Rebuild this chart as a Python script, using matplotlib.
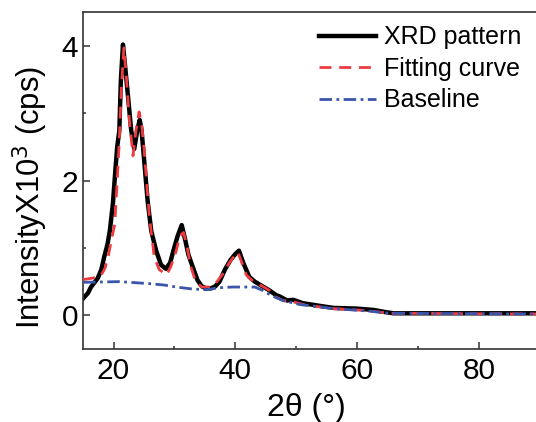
import numpy as np
import matplotlib.pyplot as plt
from matplotlib.ticker import MultipleLocator

plt.rcParams['font.family'] = ['Liberation Sans', 'DejaVu Sans']

# XRD pattern
xrd_2theta = [15.0, 15.8, 16.3, 17.4, 18.0, 18.5, 19.0, 19.4, 19.9, 20.3, 20.6, 20.95,
              21.2, 21.55, 21.9, 22.4, 22.9, 23.4, 23.9, 24.3, 24.6, 24.9, 25.6, 26.2,
              27.0, 27.8, 28.6, 29.3, 29.9, 30.5, 31.2, 31.7, 32.3, 33.0, 33.8, 34.5,
              35.2, 36.0, 36.7, 37.4, 38.3, 39.2, 40.0, 40.6, 41.3, 42.3, 43.2, 44.3,
              45.6, 46.7, 47.3, 48.5, 49.5, 51.1, 53.9, 56.1, 59.9, 62.7, 64.5, 66.0,
              72.0, 78.0, 84.0, 90.0]
xrd_counts = [0.25, 0.33, 0.42, 0.55, 0.68, 0.88, 1.05, 1.26, 1.66, 2.15, 2.50, 2.74,
              3.48, 4.02, 3.70, 3.23, 2.75, 2.47, 2.75, 2.90, 2.75, 2.44, 1.70, 1.25,
              0.96, 0.75, 0.69, 0.78, 0.98, 1.17, 1.34, 1.15, 0.90, 0.72, 0.52, 0.43,
              0.40, 0.40, 0.43, 0.50, 0.68, 0.82, 0.91, 0.96, 0.78, 0.57, 0.50, 0.44,
              0.37, 0.30, 0.28, 0.22, 0.23, 0.18, 0.14, 0.11, 0.10, 0.08, 0.05, 0.03,
              0.03, 0.03, 0.03, 0.03]

# fitting curve
fit_2theta = [15.0, 17.0, 18.0, 18.6, 19.1, 19.6, 20.2, 20.6, 20.9, 21.3, 21.7, 22.1,
              22.6, 23.2, 23.7, 24.2, 24.6, 25.05, 25.5, 25.9, 26.7, 27.5, 28.7, 29.4,
              30.3, 30.9, 31.5, 32.0, 32.7, 33.5, 34.5, 36.0, 37.0, 38.0, 39.0, 40.4,
              41.0, 41.8, 43.0, 44.3, 45.6, 46.7, 47.8, 49.5, 51.6, 56.1, 61.6, 65.4,
              90.0]
fit_counts = [0.53, 0.56, 0.60, 0.70, 0.86, 1.10, 1.35, 2.00, 2.50, 3.40, 3.97, 3.55,
              2.90, 2.37, 2.75, 3.02, 2.85, 2.44, 1.90, 1.46, 0.86, 0.68, 0.60, 0.72,
              0.96, 1.18, 1.23, 1.05, 0.72, 0.50, 0.42, 0.42, 0.50, 0.62, 0.78, 0.94,
              0.80, 0.60, 0.50, 0.44, 0.37, 0.27, 0.22, 0.20, 0.15, 0.10, 0.07, 0.03,
              0.02]

# baseline
base_2theta = [15.0, 21.0, 25.9, 28.3, 30.3, 33.0, 35.2, 37.4, 39.6, 43.2, 44.5, 46.0,
               47.8, 50.6, 56.1, 61.6, 65.4, 90.0]
base_counts = [0.49, 0.50, 0.47, 0.45, 0.42, 0.39, 0.38, 0.41, 0.42, 0.42, 0.37, 0.29,
               0.22, 0.16, 0.10, 0.065, 0.03, 0.02]

fig = plt.figure(figsize=(5.36, 4.22), dpi=100)
ax = fig.add_axes([0.155, 0.173, 0.852, 0.798])

ax.plot(xrd_2theta, xrd_counts, color='black', lw=3.2, label='XRD pattern', zorder=2)
ax.plot(fit_2theta, fit_counts, color='#ee3b3f', lw=2.0, ls=(0, (4.3, 2.8)),
        label='Fitting curve', zorder=3)
ax.plot(base_2theta, base_counts, color='#3b55aa', lw=2.0, ls=(0, (4.5, 1.6, 1, 1.6)),
        label='Baseline', zorder=4)

ax.set_xlim(15, 90)
ax.set_ylim(-0.5, 4.5)
ax.xaxis.set_major_locator(MultipleLocator(20))
ax.xaxis.set_minor_locator(MultipleLocator(10))
ax.yaxis.set_major_locator(MultipleLocator(2))
ax.yaxis.set_minor_locator(MultipleLocator(1))
ax.tick_params(which='both', direction='in', labelsize=21.5, width=1.1, color='#333333')
ax.tick_params(which='major', length=5)
ax.tick_params(which='minor', length=2.5)
ax.tick_params(axis='x', pad=6)
for s in ax.spines.values():
    s.set_linewidth(1.2)
    s.set_color('#333333')

ax.set_xlabel('2θ (°)', fontsize=23)
ax.set_ylabel('IntensityX10$^3$ (cps)', fontsize=22.3)
ax.xaxis.set_label_coords(0.49, -0.13)
ax.yaxis.set_label_coords(-0.072, 0.45)

ax.legend(loc='upper left', bbox_to_anchor=(0.595, 0.94), bbox_transform=fig.transFigure,
          frameon=False, fontsize=18, handlelength=2.3, handletextpad=0.3,
          labelspacing=0.3, borderpad=0, borderaxespad=0)

fig.savefig('out.png', dpi=100)
